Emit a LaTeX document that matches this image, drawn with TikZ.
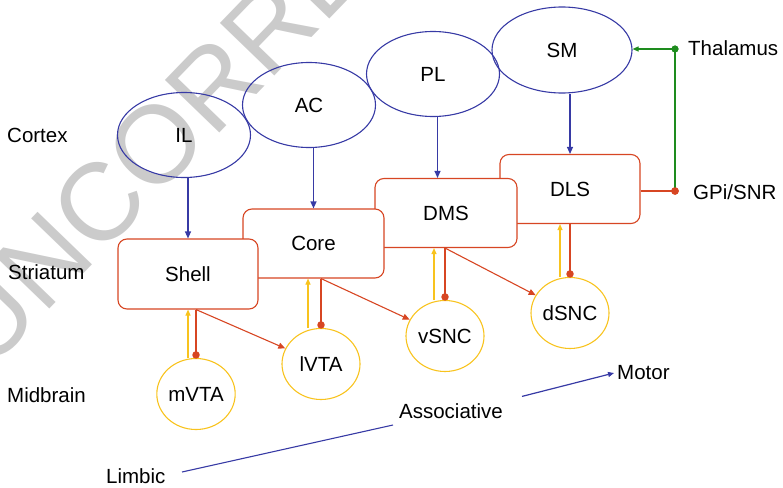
\documentclass[tikz,border=0pt]{standalone}
\usepackage{fontspec}
\setmainfont{Liberation Sans}
\usetikzlibrary{shapes.geometric,arrows.meta,calc}
\definecolor{cblue}{RGB}{55,58,165}
\definecolor{cred}{RGB}{215,70,35}
\definecolor{cyel}{RGB}{248,195,30}
\definecolor{cgreen}{RGB}{30,140,30}
\definecolor{wm}{RGB}{203,203,203}
\begin{document}
\begin{tikzpicture}[x=1pt,y=-1pt,
  font=\fontsize{20.5}{24}\selectfont,
  ctx/.style={ellipse, draw=cblue, line width=1.1pt, minimum width=133pt, minimum height=85pt, inner sep=0pt},
  stri/.style={draw=cred, fill=white, line width=1.1pt, rounded corners=9pt, minimum width=140pt, minimum height=69pt, inner sep=0pt},
  mid/.style={ellipse, draw=cyel, line width=1.1pt, minimum width=78pt, minimum height=71pt, inner sep=0pt},
  barrow/.style={draw=cblue, line width=1.2pt, -{Triangle[length=7pt,width=6pt]}},
  yarrow/.style={draw=cyel, line width=1.1pt, -{Triangle[length=6pt,width=5pt]}},
  rline/.style={draw=cred, line width=1.1pt},
  rarrow/.style={draw=cred, line width=1.1pt, -{Triangle[length=7pt,width=6pt]}},
  rdot/.style={circle, fill=cred, inner sep=0pt, minimum size=7.5pt},
  gdot/.style={circle, fill=cgreen, inner sep=0pt, minimum size=7pt},
  lab/.style={anchor=west, inner sep=0pt}
]
\useasboundingbox (0,0) rectangle (783,487);
\clip (0,0) rectangle (783,487);
% watermark
\node[text=wm, rotate=46, anchor=base west, inner sep=0pt, font=\fontsize{110}{110}\selectfont] (wmark) at (-11.8,372.6) {UNCORRECTED PROOF};

% cortex
\node[ctx] (IL) at (184,135) {IL};
\node[ctx] (AC) at (309,105) {AC};
\node[ctx] (PL) at (433,74) {PL};
\node[ctx, minimum width=140pt, minimum height=86pt] (SM) at (562,50) {SM};

% striatum (drawn back to front)
\node[stri] (DLS) at (570,189) {DLS};
\node[stri, minimum width=142pt] (DMS) at (446,213) {DMS};
\node[stri, minimum width=141pt] (Core) at (313.5,243.5) {Core};
\node[stri, minimum height=70pt] (Shell) at (188,274) {Shell};

% cortex -> striatum
\draw[barrow] (Shell.north |- IL.south) -- (Shell.north);
\draw[barrow] (Core.north |- AC.south) -- (Core.north);
\draw[barrow] ([xshift=-8.5pt]DMS.north |- PL.south) -- ([xshift=-8.5pt]DMS.north);
\draw[barrow] (DLS.north |- SM.south) -- (DLS.north);

% midbrain
\node[mid] (mVTA) at (196,394) {mVTA};
\node[mid] (lVTA) at (321,364) {lVTA};
\node[mid] (vSNC) at (445,336) {vSNC};
\node[mid] (dSNC) at (570,313) {dSNC};

% midbrain -> striatum (yellow)
\draw[yarrow] ([xshift=-8pt]mVTA.north) -- ([xshift=-8pt]mVTA.north |- Shell.south);
\draw[yarrow] ([xshift=-13pt]lVTA.north) -- ([xshift=-13pt]lVTA.north |- Core.south);
\draw[yarrow] ([xshift=-11pt]vSNC.north) -- ([xshift=-11pt]vSNC.north |- DMS.south);
\draw[yarrow] ([xshift=-10pt]dSNC.north) -- ([xshift=-10pt]dSNC.north |- DLS.south);

% striatum -> midbrain (red, dot ends)
\node[rdot] (d1) at ([yshift=3pt]mVTA.north) {};
\node[rdot] (d2) at ([yshift=3pt]lVTA.north) {};
\node[rdot] (d3) at ([yshift=3pt]vSNC.north) {};
\node[rdot] (d4) at ([yshift=3pt]dSNC.north) {};
\draw[rline] (mVTA.north |- Shell.south) -- (d1.center);
\draw[rline] (lVTA.north |- Core.south) -- (d2.center);
\draw[rline] (vSNC.north |- DMS.south) -- (d3.center);
\draw[rline] (dSNC.north |- DLS.south) -- (d4.center);

% striatum -> next midbrain (red arrows)
\draw[rarrow] (mVTA.north |- Shell.south) -- (lVTA);
\draw[rarrow] (lVTA.north |- Core.south) -- (vSNC);
\draw[rarrow] (vSNC.north |- DMS.south) -- (dSNC);

% thalamus / GPi loop
\node[gdot] (thal) at (675,49) {};
\node[rdot] (gpi) at (675,191) {};
\draw[rline] (DLS.east |- gpi) -- (gpi.center);
\draw[draw=cgreen, line width=1.1pt] (gpi.center) -- (thal.center);
\draw[draw=cgreen, line width=1.1pt, -{Triangle[length=6pt,width=5pt]}] (thal.center) -- (SM.east |- thal);
\node[gdot] at (thal) {};
\node[rdot] at (gpi) {};

% labels
\node[lab] (Thalamus) at (688,48) {Thalamus};
\node[lab] (GPi) at (693,192) {GPi/SNR};
\node[lab] (Cortex) at (7,135) {Cortex};
\node[lab] (Striatum) at (8,272) {Striatum};
\node[lab] (Midbrain) at (7,395) {Midbrain};
\node[lab] (Limbic) at (106,476) {Limbic};
\node (Assoc) at (451,411) {Associative};
\node[lab] (Motor) at (617,373) {Motor};

% gradient arrow
\coordinate (la) at (182,472);
\coordinate (lb) at (393,425);
\coordinate (lc) at (522,396.4);
\draw[draw=cblue, line width=1.1pt] (la) -- (lb);
\draw[barrow, -{Triangle[length=6pt,width=5pt]}] (lc) -- ([xshift=-3pt]Motor.west);
\end{tikzpicture}
\end{document}
